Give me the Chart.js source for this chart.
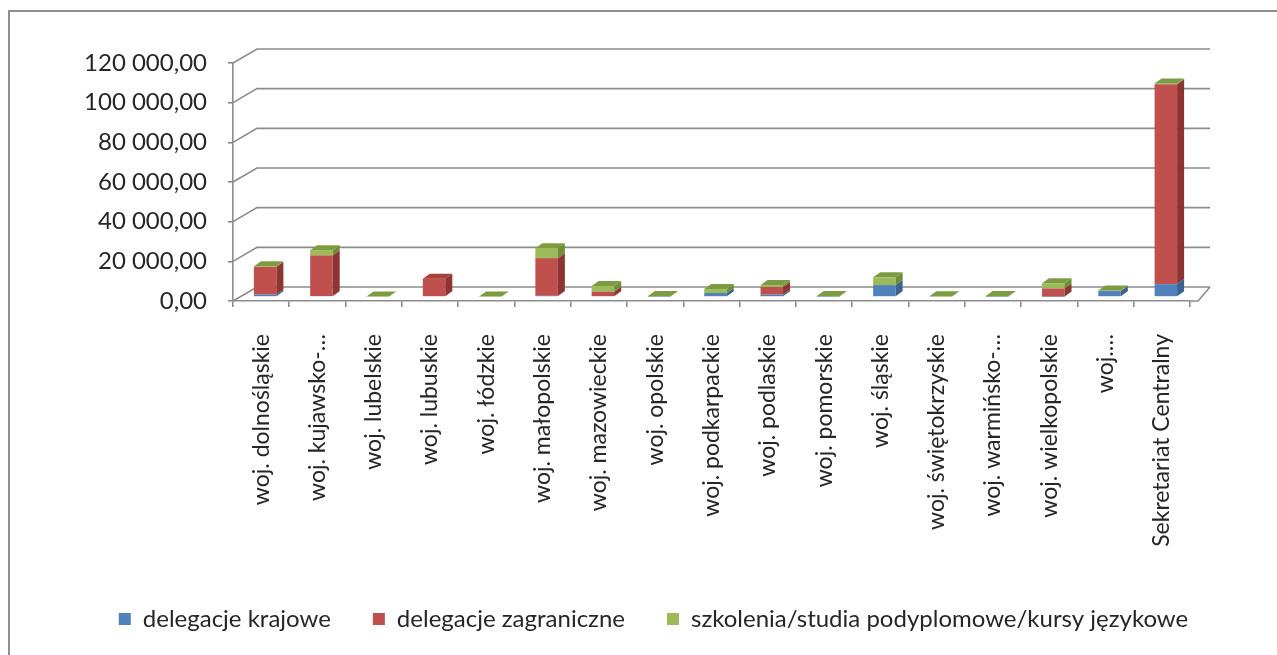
<!DOCTYPE html>
<html>
<head>
<meta charset="utf-8">
<script src="https://cdn.jsdelivr.net/npm/chart.js@4/dist/chart.umd.min.js"></script>
<style>
  html, body { margin: 0; padding: 0; background: #fff; }
  #wrap { position: relative; width: 1277px; height: 655px; overflow: hidden; }
  #frame { position: absolute; left: 8px; top: 10px; width: 1300px; height: 700px;
           border-top: 2px solid #8f8f8f; border-left: 2px solid #8f8f8f; pointer-events: none; }
  canvas { position: absolute; left: 0; top: 0; }
</style>
</head>
<body>
<div id="wrap">
  <canvas id="charts" width="1277" height="655"></canvas>
  <div id="frame"></div>
</div>
<script>
// categories and series
const regions = [
  'woj. dolnośląskie', 'woj. kujawsko-…', 'woj. lubelskie', 'woj. lubuskie',
  'woj. łódzkie', 'woj. małopolskie', 'woj. mazowieckie', 'woj. opolskie',
  'woj. podkarpackie', 'woj. podlaskie', 'woj. pomorskie', 'woj. śląskie',
  'woj. świętokrzyskie', 'woj. warmińsko-…', 'woj. wielkopolskie', 'woj.…',
  'Sekretariat Centralny'
];
const krajowe     = [1200, 500, 0, 0, 0, 600, 0, 200, 2000, 1200, 200, 6000, 0, 200, 200, 3000, 6500];
const zagraniczne = [14000, 20500, 0, 9200, 0, 19000, 2700, 0, 0, 3900, 0, 0, 300, 0, 4100, 0, 100800];
const szkolenia   = [300, 2600, 300, 0, 300, 5000, 2900, 300, 2000, 900, 300, 3900, 100, 300, 2600, 300, 400];
const yTicks = [0, 20000, 40000, 60000, 80000, 100000, 120000];

const gridColor = '#8c8c8c';
const fontName = 'Lato';

// 0,00 style labels with a space between thousands
const fmt = (v) => {
  const [i, d] = Number(v).toFixed(2).split('.');
  return i.replace(/\B(?=(\d{3})+$)/g, '\u00a0') + ',' + d;
};

// 3D look: back wall lines, floor and the side / top faces of bars
const depth3d = {
  id: 'depth3d',
  beforeDatasetsDraw(chart) {
    const { ctx, chartArea: a, scales: { y } } = chart;
    ctx.save();
    ctx.strokeStyle = gridColor;
    ctx.lineWidth = 1.6;
    yTicks.forEach((v) => {
      const py = y.getPixelForValue(v);
      ctx.beginPath();
      ctx.moveTo(a.left, py);
      ctx.lineTo(a.left + 24, py - 14);
      ctx.lineTo(a.right + 20, py - 14);
      ctx.stroke();
    });
    // floor front edge + right side
    const p0 = y.getPixelForValue(0);
    ctx.beginPath();
    ctx.moveTo(a.right, p0);
    ctx.lineTo(a.right + 8, p0);
    ctx.lineTo(a.right + 20, p0 - 14);
    ctx.stroke();
    ctx.restore();
    ctx.save();
    ctx.translate(4, -4);
  },
  afterDatasetsDraw(chart) {
    const { ctx } = chart;
    const dx = 7, dy = -5;
    const n = chart.data.labels.length;
    for (let i = 0; i < n; i++) {
      let topEl = null, topDs = null;
      chart.data.datasets.forEach((ds, di) => {
        const el = chart.getDatasetMeta(di).data[i];
        if (!el || !ds.data[i]) return;
        const r = el.x + el.width / 2;
        ctx.fillStyle = ds.sideColor;
        ctx.beginPath();
        ctx.moveTo(r, el.y);
        ctx.lineTo(r + dx, el.y + dy);
        ctx.lineTo(r + dx, el.base + dy);
        ctx.lineTo(r, el.base);
        ctx.closePath();
        ctx.fill();
        topEl = el; topDs = ds;
      });
      if (topEl) {
        const l = topEl.x - topEl.width / 2, r = topEl.x + topEl.width / 2;
        ctx.fillStyle = topDs.topColor;
        ctx.beginPath();
        ctx.moveTo(l, topEl.y);
        ctx.lineTo(l + dx, topEl.y + dy);
        ctx.lineTo(r + dx, topEl.y + dy);
        ctx.lineTo(r, topEl.y);
        ctx.closePath();
        ctx.fill();
      }
    }
    ctx.restore();
  }
};

const ctx = document.getElementById('charts').getContext('2d');
new Chart(ctx, {
  type: 'bar',
  data: {
    labels: regions,
    datasets: [
      { label: 'delegacje krajowe', data: krajowe, backgroundColor: '#4F81BD',
        sideColor: '#3A6293', topColor: '#4574AC', borderWidth: 0 },
      { label: 'delegacje zagraniczne', data: zagraniczne, backgroundColor: '#C0504D',
        sideColor: '#8C3533', topColor: '#A8403D', borderWidth: 0 },
      { label: 'szkolenia/studia podyplomowe/kursy językowe', data: szkolenia, backgroundColor: '#9BBB59',
        sideColor: '#6F8C36', topColor: '#7D9C41', borderWidth: 0 }
    ]
  },
  options: {
    responsive: false,
    animation: false,
    layout: { padding: { left: 30, right: 0, top: 63, bottom: 14 } },
    plugins: {
      tooltip: { enabled: false },
      legend: {
        position: 'bottom',
        labels: {
          boxWidth: 12, boxHeight: 12, padding: 42, color: '#262626',
          font: { family: fontName, size: 24 }
        }
      }
    },
    datasets: { bar: { categoryPercentage: 1, barPercentage: 0.4 } },
    scales: {
      x: {
        stacked: true,
        grid: { offset: true, drawOnChartArea: false, drawTicks: true, tickLength: 6, color: gridColor, lineWidth: 1.6 },
        border: { display: true, color: gridColor, width: 1.6 },
        ticks: {
          autoSkip: false, maxRotation: 90, minRotation: 90, padding: 27, color: '#262626',
          font: { family: fontName, size: 23 }
        },
        afterFit: (s) => { s.height = 264; }
      },
      y: {
        stacked: true, min: 0, max: 120000,
        grid: { drawOnChartArea: false, drawTicks: true, tickLength: 5, color: gridColor, lineWidth: 1.6 },
        border: { display: true, color: gridColor, width: 1.6 },
        ticks: {
          stepSize: 20000, padding: 21, color: '#262626',
          font: { family: fontName, size: 24 },
          callback: (v) => fmt(v)
        },
        afterFit: (s) => { s.width = 203; }
      },
      pad: {
        position: 'right', display: true,
        grid: { display: false }, border: { display: false }, ticks: { display: false },
        afterFit: (s) => { s.width = 87; }
      }
    }
  },
  plugins: [depth3d]
});
</script>
</body>
</html>
